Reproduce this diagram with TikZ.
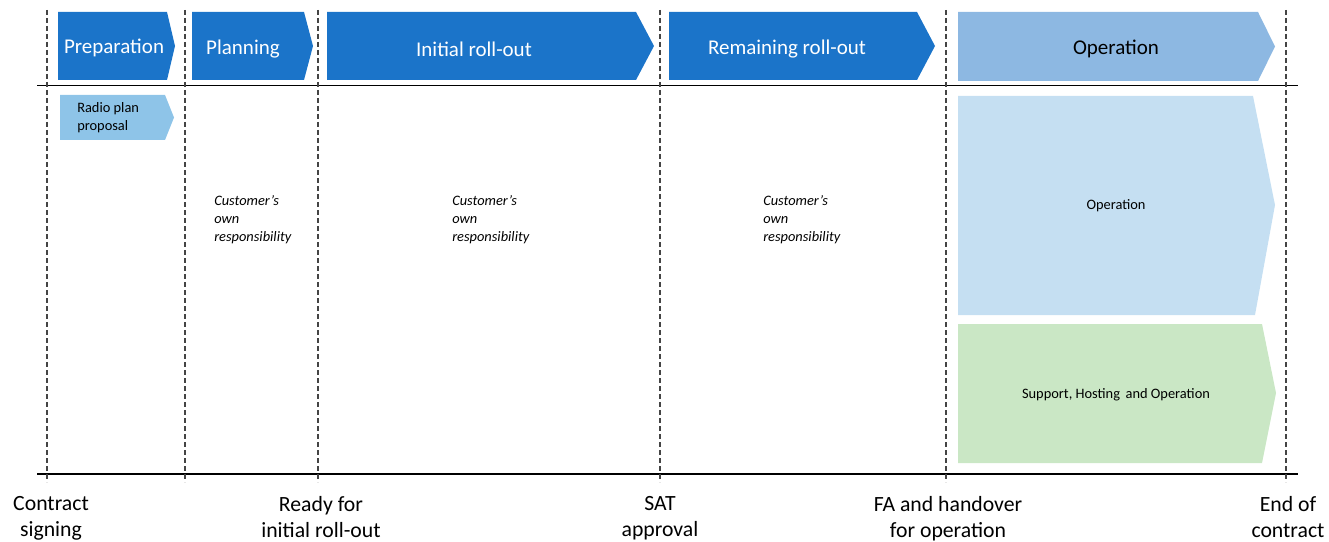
\documentclass[tikz,border=0pt]{standalone}
\usepackage{fontspec}
\setmainfont{Carlito}
\definecolor{dblue}{HTML}{1B74C9}
\definecolor{mblue}{HTML}{8DB8E2}
\definecolor{rblue}{HTML}{8EC4E8}
\definecolor{lblue}{HTML}{C5DFF2}
\definecolor{lgreen}{HTML}{CAE7C5}
\definecolor{dgrey}{HTML}{444444}
\tikzset{
  vline/.style={draw=dgrey, line width=0.8pt, dash pattern=on 3.5pt off 2.5pt},
  hline/.style={draw=black, line width=1pt},
  phasetxt/.style={font=\fontsize{15.75}{19}\selectfont, inner sep=0pt},
  smalltxt/.style={font=\fontsize{10.8}{13.5}\selectfont, inner sep=0pt, align=left},
  resptxt/.style={font=\fontsize{10.8}{13.5}\selectfont\itshape, inner sep=0pt, align=left, anchor=north west},
  miletxt/.style={font=\fontsize{16.3}{19.5}\selectfont, inner sep=0pt, align=center, anchor=north},
}
\begin{document}
\begin{tikzpicture}[x=0.75pt,y=-0.75pt]
\useasboundingbox (0,0) rectangle (1329,542);
% phase chevrons
\fill[dblue] (58,12) -- (167,12) -- (175,46) -- (167,80) -- (58,80) -- cycle;
\fill[dblue] (192,12) -- (304,12) -- (313,46) -- (304,80) -- (192,80) -- cycle;
\fill[dblue] (327,12) -- (636,12) -- (654,46) -- (636,80) -- (327,80) -- cycle;
\fill[dblue] (669,12) -- (917,12) -- (935,46) -- (917,80) -- (669,80) -- cycle;
\fill[mblue] (958,12) -- (1258,12) -- (1275,46.5) -- (1258,81) -- (958,81) -- cycle;
% sub boxes
\fill[rblue] (60,95) -- (165,95) -- (174,117.5) -- (165,140) -- (60,140) -- cycle;
\fill[lblue] (958,96) -- (1253,96) -- (1275,205) -- (1255,315) -- (958,315) -- cycle;
\fill[lgreen] (958,324) -- (1262,324) -- (1276,393) -- (1262,463) -- (958,463) -- cycle;
% horizontal lines
\draw[hline] (37,85.5) -- (1298,85.5);
\draw[hline] (37,474) -- (1298,474);
% dashed milestone lines
\foreach \x/\n in {47/a,185/b,318/c,660/d,946/e,1286/f}{
  \coordinate (t\n) at (\x,10);
  \coordinate (b\n) at (\x,482);
  \draw[vline] (t\n) -- (b\n);
}
% phase labels
\node[phasetxt, text=white] (prep) at (114,48) {Preparation};
\node[phasetxt, text=white] (plan) at (243,49.5) {Planning};
\node[phasetxt, text=white] (init) at (474,49) {Initial roll-out};
\node[phasetxt, text=white] (rem) at (787,49) {Remaining roll-out};
\node[phasetxt, text=black] (oper) at (1116,49) {Operation};
% sub labels
\node[smalltxt, anchor=west] (radio) at (77,118) {Radio plan\\proposal};
\node[smalltxt] (opsmall) at (1116,206) {Operation};
\node[smalltxt] (sho) at (1116,395) {Support, Hosting\, and Operation};
\node[resptxt] (r1) at (214,195) {Customer’s\\own\\responsibility};
\node[resptxt] (r2) at (452,195) {Customer’s\\own\\responsibility};
\node[resptxt] (r3) at (763,195) {Customer’s\\own\\responsibility};
% milestones
\node[miletxt] (m1) at (51,496) {Contract\\signing};
\node[miletxt] (m2) at (321,496) {Ready for\\initial roll-out};
\node[miletxt] (m3) at (660,496) {SAT\\approval};
\node[miletxt] (m4) at (948,496) {FA and handover\\for operation};
\node[miletxt] (m5) at (1288,496) {End of\\contract};
\end{tikzpicture}
\end{document}
